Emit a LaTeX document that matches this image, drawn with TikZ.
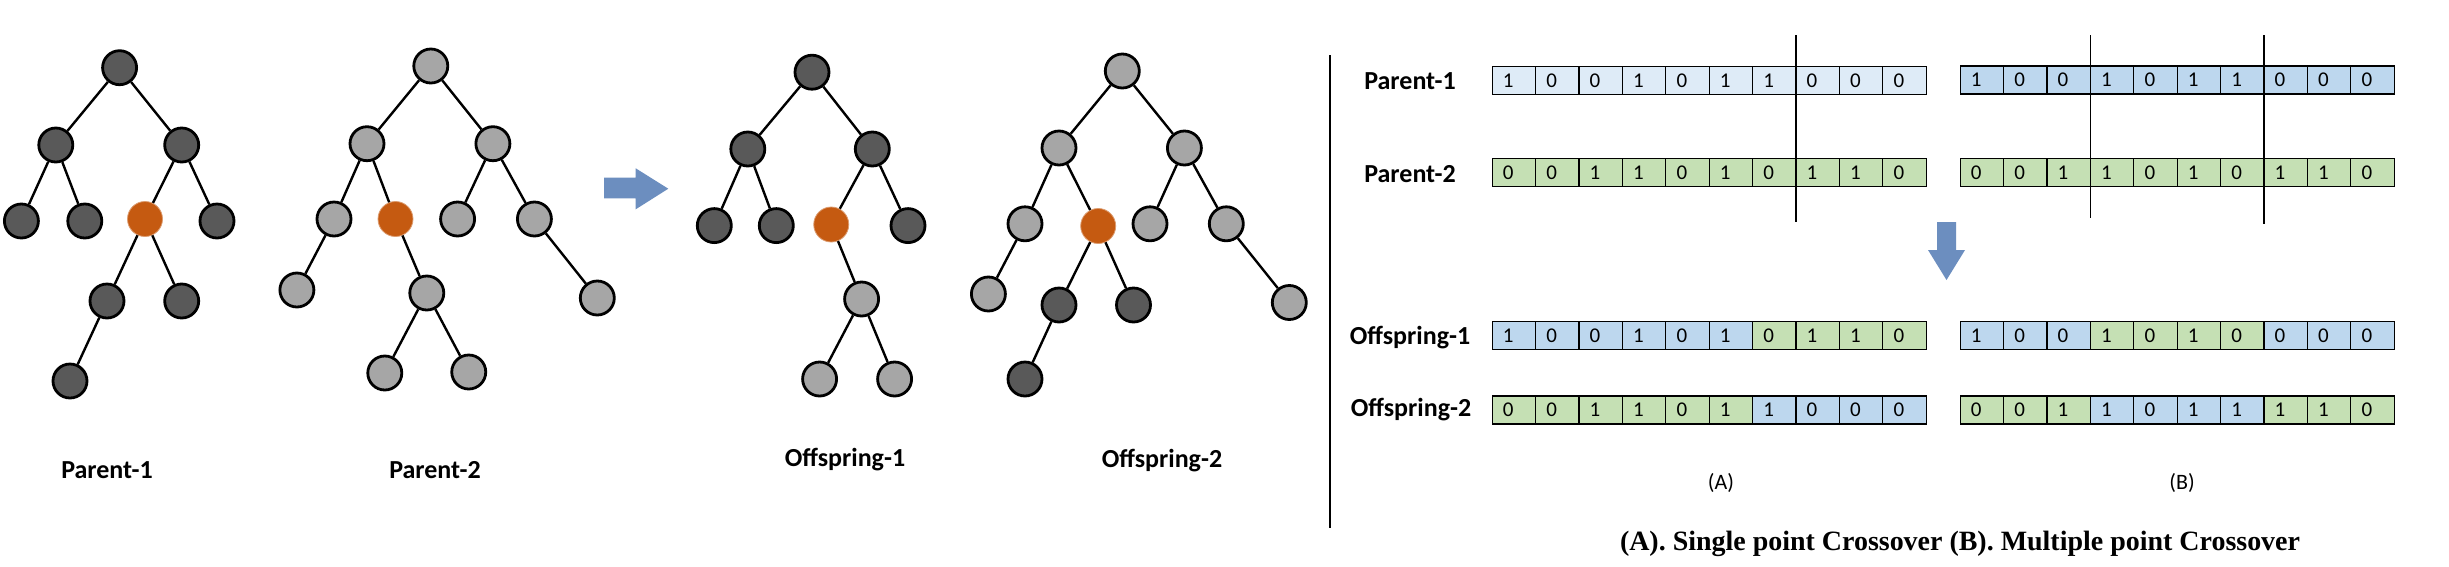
\documentclass[tikz,border=0pt]{standalone}
\usepackage{fontspec}
\usepackage{graphicx}
\newfontfamily\calibri{Carlito}
\newfontfamily\capserif{Liberation Serif}
\definecolor{darkn}{HTML}{595959}
\definecolor{lightn}{HTML}{A6A6A6}
\definecolor{orangen}{HTML}{C55A11}
\definecolor{arrowblue}{HTML}{6C8EBF}
\definecolor{pbl}{HTML}{DEEBF7}
\definecolor{bl}{HTML}{BDD7EE}
\definecolor{gr}{HTML}{C5E0B4}
\newcommand\bitrow[4]{%
  \foreach \v/\c [count=\i from 0] in {#4} {%
    \node[cell, fill=\c] (#1-\i) at ({#2+21.7+43.4*\i},#3) {\makebox[43.4pt][l]{\hspace{10.7pt}\v}};}}
\begin{document}
\begin{tikzpicture}[x=1pt,y=-1pt,
  tn/.style={circle, draw=black, line width=2.8pt, minimum size=34pt, inner sep=0pt},
  dk/.style={tn, fill=darkn},
  lt/.style={tn, fill=lightn},
  og/.style={circle, fill=orangen, draw=orangen!60!white, line width=0.8pt, minimum size=35pt, inner sep=0pt},
  edge/.style={line width=2.4pt, black},
  treelabel/.style={font=\calibri\bfseries\fontsize{26}{30}\selectfont, anchor=base, inner sep=0pt},
  rowlabel/.style={font=\calibri\bfseries\fontsize{26}{30}\selectfont, anchor=base, inner sep=0pt},
  cell/.style={draw=black, line width=1.2pt, rectangle, minimum width=43.4pt, minimum height=28pt, inner sep=0pt, font=\calibri\fontsize{21}{24}\selectfont},
  sublabel/.style={font=\calibri\fontsize{22}{26}\selectfont, inner sep=0pt},
  cutline/.style={line width=1.8pt, black},
  bigarrow/.style={fill=arrowblue, draw=none}]
\useasboundingbox (0,0) rectangle (2449,566);
\fill[white] (0,0) rectangle (2449,566);

% ---------- Parent-1 tree ----------
\node[dk] (a0) at (119.6,67.7) {};
\node[dk] (a1) at (55.8,145) {};
\node[dk] (a2) at (181.7,145) {};
\node[dk] (a3) at (21.4,221) {};
\node[dk] (a4) at (84.8,221) {};
\node[og] (a5) at (145,219) {};
\node[dk] (a6) at (217,221) {};
\node[dk] (a7) at (107,301) {};
\node[dk] (a8) at (181.7,301) {};
\node[dk] (a9) at (70,381) {};
\draw[edge] (a0) -- (a1); \draw[edge] (a0) -- (a2);
\draw[edge] (a1) -- (a3); \draw[edge] (a1) -- (a4);
\draw[edge] (a2) -- (a5); \draw[edge] (a2) -- (a6);
\draw[edge] (a5) -- (a7); \draw[edge] (a5) -- (a8);
\draw[edge] (a7) -- (a9);
\node[treelabel] (lp1) at (107,478) {Parent-1};

% ---------- Parent-2 tree ----------
\node[lt] (b0) at (430.8,66) {};
\node[lt] (b1) at (367,143.7) {};
\node[lt] (b2) at (492.9,143.7) {};
\node[lt] (b3) at (334,219) {};
\node[og] (b4) at (395.5,219) {};
\node[lt] (b5) at (457.6,219) {};
\node[lt] (b6) at (534.4,219) {};
\node[lt] (b7) at (296.9,290) {};
\node[lt] (b8) at (426.8,293) {};
\node[lt] (b9) at (597.3,298) {};
\node[lt] (b10) at (384.8,373) {};
\node[lt] (b11) at (468.75,372) {};
\draw[edge] (b0) -- (b1); \draw[edge] (b0) -- (b2);
\draw[edge] (b1) -- (b3); \draw[edge] (b1) -- (b4);
\draw[edge] (b2) -- (b5); \draw[edge] (b2) -- (b6);
\draw[edge] (b3) -- (b7); \draw[edge] (b4) -- (b8);
\draw[edge] (b6) -- (b9);
\draw[edge] (b8) -- (b10); \draw[edge] (b8) -- (b11);
\node[treelabel] (lp2) at (435,478) {Parent-2};

% ---------- right arrow ----------
\fill[bigarrow] (604,177.7) -- (635.7,177.7) -- (635.7,168.3) -- (668.3,188.7)
  -- (635.7,209.3) -- (635.7,198.3) -- (604,198.3) -- cycle;

% ---------- Offspring-1 tree ----------
\node[dk] (c0) at (812,72.2) {};
\node[dk] (c1) at (747.8,149) {};
\node[dk] (c2) at (872.3,149) {};
\node[dk] (c3) at (714.3,225.6) {};
\node[dk] (c4) at (776.3,225.6) {};
\node[og] (c5) at (831.25,224.5) {};
\node[dk] (c6) at (908,225.6) {};
\node[lt] (c7) at (861.6,299) {};
\node[lt] (c8) at (819.6,379) {};
\node[lt] (c9) at (894.6,379) {};
\draw[edge] (c0) -- (c1); \draw[edge] (c0) -- (c2);
\draw[edge] (c1) -- (c3); \draw[edge] (c1) -- (c4);
\draw[edge] (c2) -- (c5); \draw[edge] (c2) -- (c6);
\draw[edge] (c5) -- (c7);
\draw[edge] (c7) -- (c8); \draw[edge] (c7) -- (c9);
\node[treelabel] (lo1) at (845,466) {Offspring-1};

% ---------- Offspring-2 tree ----------
\node[lt] (d0) at (1122.3,71) {};
\node[lt] (d1) at (1059,148) {};
\node[lt] (d2) at (1184.4,148) {};
\node[lt] (d3) at (1025,223.8) {};
\node[og] (d4) at (1098.2,226) {};
\node[lt] (d5) at (1150,223.8) {};
\node[lt] (d6) at (1226.3,223.8) {};
\node[lt] (d7) at (988.4,294) {};
\node[dk] (d8) at (1059,305) {};
\node[dk] (d9) at (1133.5,305) {};
\node[lt] (d10) at (1289.3,302.5) {};
\node[dk] (d11) at (1025,379) {};
\draw[edge] (d0) -- (d1); \draw[edge] (d0) -- (d2);
\draw[edge] (d1) -- (d3); \draw[edge] (d1) -- (d4);
\draw[edge] (d2) -- (d5); \draw[edge] (d2) -- (d6);
\draw[edge] (d3) -- (d7);
\draw[edge] (d4) -- (d8); \draw[edge] (d4) -- (d9);
\draw[edge] (d6) -- (d10);
\draw[edge] (d8) -- (d11);
\node[treelabel] (lo2) at (1162,467) {Offspring-2};

% ---------- separator ----------
\draw[line width=1.8pt] (1330,55) -- (1330,528);

% ---------- row labels ----------
\node[rowlabel] (rp1) at (1410,89.8) {Parent-1};
\node[rowlabel] (rp2) at (1410,182.5) {Parent-2};
\node[rowlabel] (ro1) at (1410,344.3) {Offspring-1};
\node[rowlabel] (ro2) at (1411,416.7) {Offspring-2};

% ---------- (A) single point ----------
\bitrow{AP1}{1492.2}{80.5}{1/pbl,0/pbl,0/pbl,1/pbl,0/pbl,1/pbl,1/pbl,0/pbl,0/pbl,0/pbl}
\bitrow{AP2}{1492.2}{172.5}{0/gr,0/gr,1/gr,1/gr,0/gr,1/gr,0/gr,1/gr,1/gr,0/gr}
\bitrow{AO1}{1492.2}{335.8}{1/bl,0/bl,0/bl,1/bl,0/bl,1/bl,0/gr,1/gr,1/gr,0/gr}
\bitrow{AO2}{1492.2}{410}{0/gr,0/gr,1/gr,1/gr,0/gr,1/gr,1/bl,0/bl,0/bl,0/bl}
\draw[cutline] (1796,35) -- (1796,222);

% ---------- (B) multiple point ----------
\bitrow{BP1}{1960.2}{80}{1/bl,0/bl,0/bl,1/bl,0/bl,1/bl,1/bl,0/bl,0/bl,0/bl}
\bitrow{BP2}{1960.2}{172.5}{0/gr,0/gr,1/gr,1/gr,0/gr,1/gr,0/gr,1/gr,1/gr,0/gr}
\bitrow{BO1}{1960.2}{335.8}{1/bl,0/bl,0/bl,1/gr,0/gr,1/gr,0/gr,0/bl,0/bl,0/bl}
\bitrow{BO2}{1960.2}{410}{0/gr,0/gr,1/gr,1/bl,0/bl,1/bl,1/bl,1/gr,1/gr,0/gr}
\draw[cutline] (2090.5,35) -- (2090.5,218);
\draw[cutline] (2264,35) -- (2264,224);

% ---------- down arrow ----------
\fill[bigarrow] (1937,222) -- (1956,222) -- (1956,250) -- (1965,250) -- (1946.5,280)
  -- (1928,250) -- (1937,250) -- cycle;

% ---------- sub labels and caption ----------
\node[sublabel] (la) at (1721,483) {(A)};
\node[sublabel] (lb) at (2182,483) {(B)};
\node[anchor=base, inner sep=0pt] (cap) at (1960,550)
  {\resizebox{680pt}{!}{\capserif\bfseries\fontsize{26}{30}\selectfont (A). Single point Crossover (B). Multiple point Crossover}};
\end{tikzpicture}
\end{document}
